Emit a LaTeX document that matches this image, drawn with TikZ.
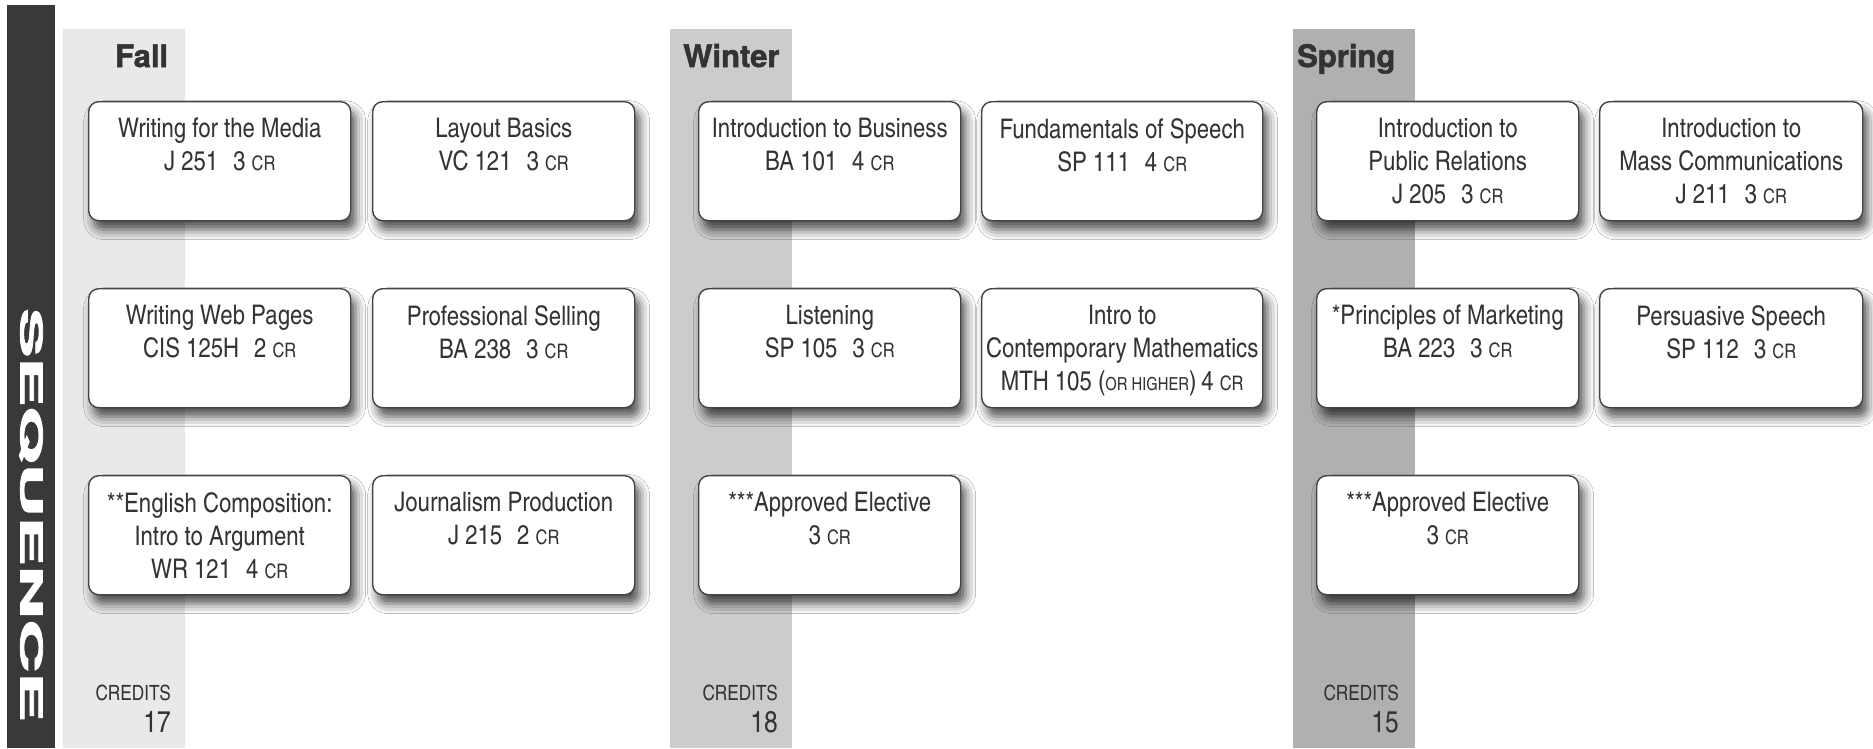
\documentclass[tikz,border=0pt]{standalone}
\usepackage{fontspec}
\usepackage{graphicx}
\setmainfont{texgyreheroscn}[Extension=.otf, UprightFont=*-regular, BoldFont=*-bold]
\newfontfamily\headfont{texgyreheros}[Extension=.otf, UprightFont=*-bold, FakeBold=1.6]
\newfontfamily\seqfont{texgyreheros}[Extension=.otf, UprightFont=*-bold, FakeBold=2.5]
\usetikzlibrary{shadows.blur}
\definecolor{ink}{HTML}{333333}
\definecolor{barc}{HTML}{393939}
\definecolor{fallc}{HTML}{E9E9E9}
\definecolor{winc}{HTML}{CCCCCC}
\definecolor{sprc}{HTML}{B0B0B0}
\definecolor{boxline}{HTML}{444444}
\newcommand\cred{{\fontsize{20}{20}\selectfont CR}}
\newcommand\crgap{\hspace{15pt}}
\newcommand\course[5]{%
  \node[course, minimum width=#4pt] (#1) at (#2,#3) {};
  \node[ctext] (#1t) at ([yshift=-17pt]#1.north) {#5};
}
\tikzset{
  course/.style={draw=boxline, line width=1.4pt, fill=white, rounded corners=10pt,
    minimum height=119pt, anchor=north west, inner sep=0pt,
    blur shadow={shadow xshift=5pt, shadow yshift=-9pt, shadow blur radius=10pt, shadow opacity=70}},
  ctext/.style={anchor=north, inner sep=0pt, align=center, text=ink, font=\fontsize{27}{33}\selectfont},
  head/.style={anchor=base west, inner sep=0pt, text=ink, font=\headfont\fontsize{31}{31}\selectfont},
  credlbl/.style={anchor=base east, inner sep=0pt, text=ink, font=\fontsize{21}{21}\selectfont},
  crednum/.style={anchor=base east, inner sep=0pt, text=ink, font=\fontsize{30}{30}\selectfont},
}
\begin{document}
\begin{tikzpicture}[x=1pt, y=-1pt]
\useasboundingbox (0,0) rectangle (1873,748);
\fill[white] (0,0) rectangle (1873,748);
% side bar
\fill[barc] (7,5) rectangle (55,748);
\node[rotate=-90, text=white, font=\seqfont\fontsize{30}{30}\selectfont, inner sep=0pt] (seq) at (31,515) {\scalebox{2.45}[1]{SEQUENCE}};
% term panels
\fill[fallc] (63,29) rectangle (185,748);
\fill[winc] (670,29) rectangle (792,748);
\fill[sprc] (1293,29) rectangle (1415,748);
% headings
\node[head] (hfall) at (115,67) {Fall};
\node[head] (hwin) at (683,67) {Winter};
\node[head] (hspr) at (1297,67) {Spring};
% Fall
\course{f1}{88}{101}{262}{Writing for the Media\\J 251\crgap 3 \cred}
\course{f2}{372}{101}{262}{Layout Basics\\VC 121\crgap 3 \cred}
\course{f3}{88}{288}{262}{Writing Web Pages\\CIS 125H\crgap 2 \cred}
\course{f4}{372}{288}{262}{Professional Selling\\BA 238\crgap 3 \cred}
\course{f5}{88}{475}{262}{**English Composition:\\Intro to Argument\\WR 121\crgap 4 \cred}
\course{f6}{372}{475}{262}{Journalism Production\\J 215\crgap 2 \cred}
% Winter
\course{w1}{698}{101}{262}{Introduction to Business\\BA 101\crgap 4 \cred}
\course{w2}{981}{101}{281}{Fundamentals of Speech\\SP 111\crgap 4 \cred}
\course{w3}{698}{288}{262}{Listening\\SP 105\crgap 3 \cred}
\course{w4}{981}{288}{281}{Intro to\\Contemporary Mathematics\\MTH 105 ({\fontsize{18}{18}\selectfont OR HIGHER})\hspace{5pt}4 \cred}
\course{w5}{698}{475}{262}{***Approved Elective\\3 \cred}
% Spring
\course{s1}{1316}{101}{262}{Introduction to\\Public Relations\\J 205\crgap 3 \cred}
\course{s2}{1599}{101}{263}{Introduction to\\Mass Communications\\J 211\crgap 3 \cred}
\course{s3}{1316}{288}{262}{*Principles of Marketing\\BA 223\crgap 3 \cred}
\course{s4}{1599}{288}{263}{Persuasive Speech\\SP 112\crgap 3 \cred}
\course{s5}{1316}{475}{262}{***Approved Elective\\3 \cred}
% credits
\node[credlbl] (cf) at (171,700) {CREDITS};
\node[crednum] (cfn) at (171,732) {17};
\node[credlbl] (cw) at (778,700) {CREDITS};
\node[crednum] (cwn) at (778,732) {18};
\node[credlbl] (cs) at (1399,700) {CREDITS};
\node[crednum] (csn) at (1399,732) {15};
\end{tikzpicture}
\end{document}
